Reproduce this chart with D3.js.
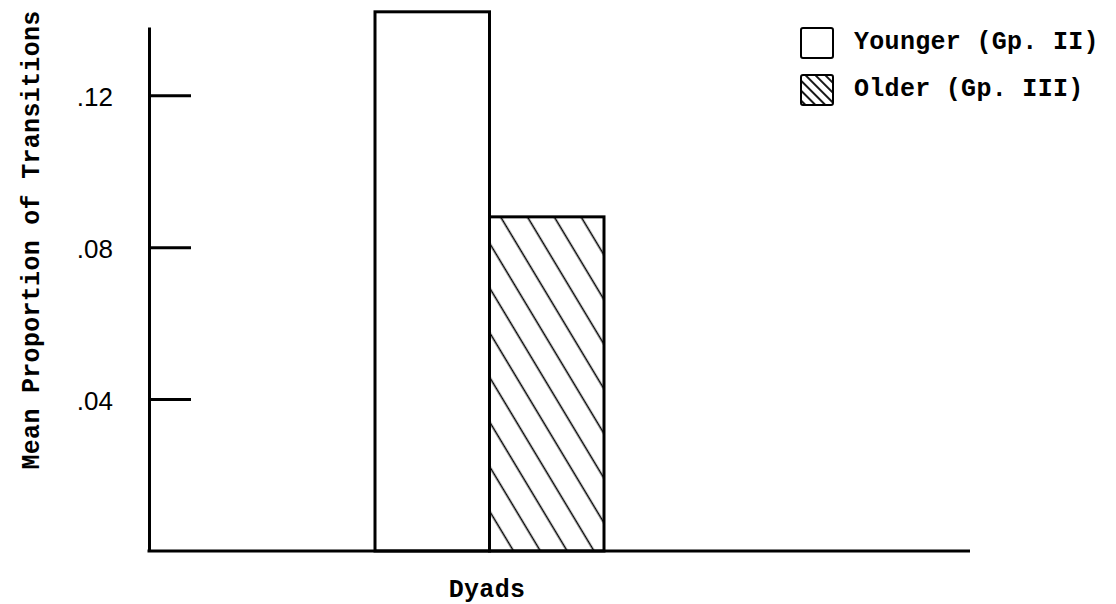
<!DOCTYPE html>
<meta charset="utf-8">
<head>
    <meta charset="utf-8">
    <title>Mean Proportion of Transitions</title>
    <script src="https://d3js.org/d3.v7.min.js" charset="utf-8"></script>
    <style>
        html, body {
            margin: 0;
            padding: 0;
            background: #fff;
        }
        .mono {
            font-family: "Liberation Mono", "Courier New", monospace;
            font-size: 25px;
            font-weight: bold;
            letter-spacing: 0.3px;
            fill: #000;
        }
        .y-axis text {
            font-family: "Liberation Sans", Arial, sans-serif;
            font-size: 26px;
            fill: #000;
        }
        .y-axis line, .y-axis path {
            stroke: #000;
            stroke-width: 3px;
        }
    </style>
</head>
<body>
<div class="chart"></div>
<script>

// データ
var groups = ["Younger (Gp. II)", "Older (Gp. III)"];
var values = [0.142, 0.088];
var tickValues = [0.04, 0.08, 0.12];
var xLabel = "Dyads";
var yLabel = "Mean Proportion of Transitions";

var W = 1116, H = 604;

const svg = d3.select(".chart")
    .append("svg")
    .attr("width", W)
    .attr("height", H);

// スケール
var y = d3.scaleLinear()
    .domain([0, 0.138])
    .range([551, 27]);

var x = d3.scaleBand()
    .domain(groups)
    .range([375, 604])
    .padding(0);

var axisLeftX = 149, axisRightX = 970;

// ハッチング パターン
var defs = svg.append("defs");
defs.append("pattern")
    .attr("id", "hatch")
    .attr("patternUnits", "userSpaceOnUse")
    .attr("width", 23)
    .attr("height", 10)
    .attr("patternTransform", "rotate(-31)")
    .append("line")
    .attr("x1", 18.4).attr("y1", 0)
    .attr("x2", 18.4).attr("y2", 10)
    .attr("stroke", "#000")
    .attr("stroke-width", 1.6);

defs.append("pattern")
    .attr("id", "hatchSmall")
    .attr("patternUnits", "userSpaceOnUse")
    .attr("width", 7)
    .attr("height", 10)
    .attr("patternTransform", "rotate(-45)")
    .append("line")
    .attr("x1", 3).attr("y1", 0)
    .attr("x2", 3).attr("y2", 10)
    .attr("stroke", "#000")
    .attr("stroke-width", 1.8);

var fills = ["#fff", "url(#hatch)"];
var legendFills = ["#fff", "url(#hatchSmall)"];

// 棒
svg.selectAll(".bar")
    .data(groups)
    .enter()
    .append("rect")
    .attr("class", "bar")
    .attr("x", d => x(d))
    .attr("width", x.bandwidth())
    .attr("y", (d, i) => y(values[i]))
    .attr("height", (d, i) => y(0) - y(values[i]))
    .attr("fill", (d, i) => fills[i])
    .attr("stroke", "#000")
    .attr("stroke-width", 3);

// y軸
svg.append("g")
    .attr("class", "y-axis")
    .attr("transform", "translate(" + axisLeftX + ",0)")
    .call(d3.axisLeft(y)
        .tickValues(tickValues)
        .tickSizeInner(-42)
        .tickSizeOuter(0)
        .tickPadding(36)
        .tickFormat(d => d3.format(".2f")(d).replace(/^0/, "")))
    .call(g => g.selectAll(".tick text").attr("dy", "0.4em"));

// x軸（ベースライン）
svg.append("line")
    .attr("x1", axisLeftX - 1.5)
    .attr("x2", axisRightX)
    .attr("y1", y(0))
    .attr("y2", y(0))
    .attr("stroke", "#000")
    .attr("stroke-width", 3);

// ラベル
svg.append("text")
    .attr("class", "mono")
    .attr("x", 487)
    .attr("y", 597)
    .attr("text-anchor", "middle")
    .text(xLabel);

svg.append("text")
    .attr("class", "mono")
    .attr("transform", "translate(39,240) rotate(-90)")
    .attr("text-anchor", "middle")
    .text(yLabel);

// 凡例
var legend = svg.selectAll(".legend")
    .data(groups)
    .enter()
    .append("g")
    .attr("class", "legend")
    .attr("transform", (d, i) => "translate(801," + (28 + i * 47) + ")");

legend.append("rect")
    .attr("width", 32)
    .attr("height", 30)
    .attr("rx", 2)
    .attr("fill", (d, i) => legendFills[i])
    .attr("stroke", "#000")
    .attr("stroke-width", 2);

legend.append("text")
    .attr("class", "mono")
    .attr("x", 53)
    .attr("y", 21)
    .text(d => d);

</script>
</body>
